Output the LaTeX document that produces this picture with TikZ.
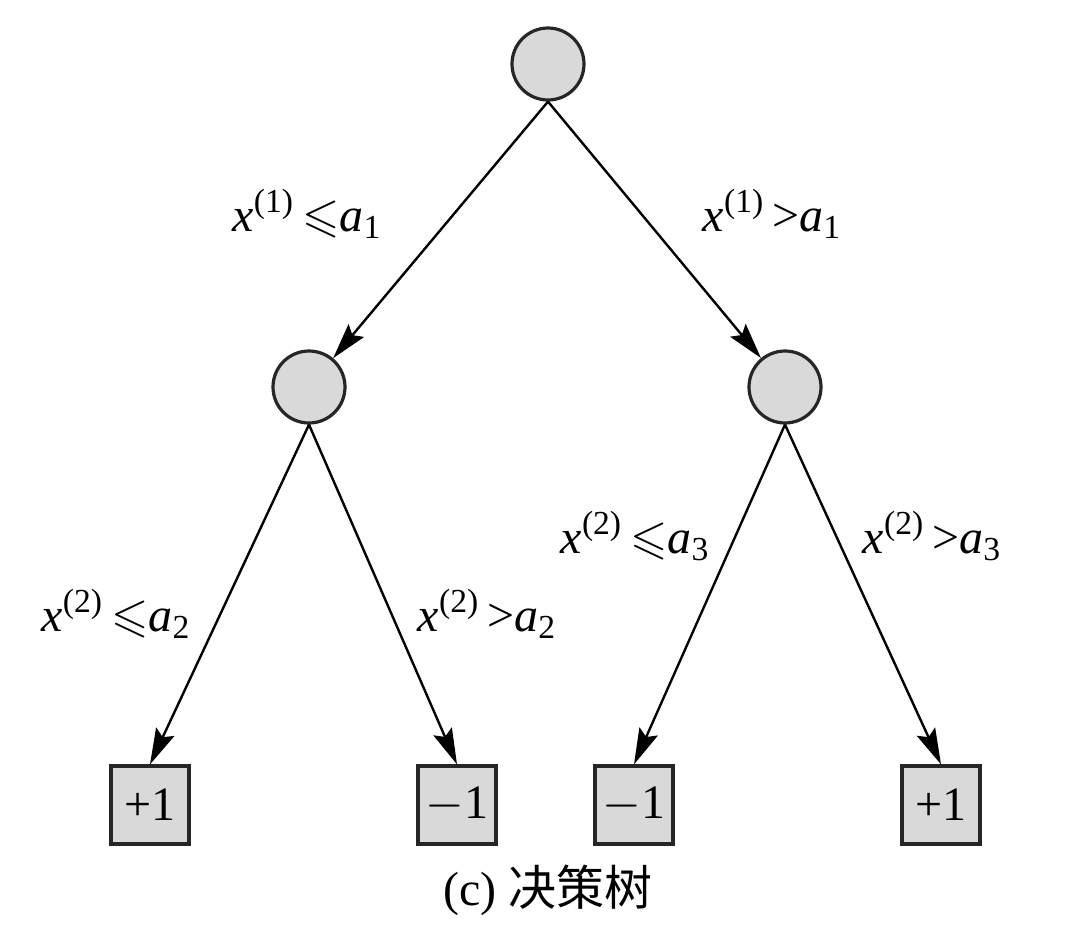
\documentclass[tikz,border=0pt]{standalone}
\usepackage{amssymb}
\usepackage{fontspec}
\setmainfont{Liberation Serif}
\newfontfamily\cjk{Noto Sans CJK SC}
\usetikzlibrary{arrows.meta}
\definecolor{nodegray}{HTML}{D9D9D9}
\newcommand{\xv}[1]{\textit{x}\textsuperscript{(#1)}\,}
\newcommand{\av}[1]{\textit{a}\textsubscript{#1}}
\begin{document}
\begin{tikzpicture}[x=0.5pt,y=-0.5pt,
  every node/.style={font=\fontsize{24}{28}\selectfont},
  decnode/.style={circle,draw=black!85,line width=1.6pt,fill=nodegray,minimum size=36pt,inner sep=0pt},
  leafnode/.style={rectangle,draw=black!85,line width=1.6pt,fill=nodegray,minimum size=39pt,inner sep=0pt},
  edge/.style={line width=1.2pt,-{Stealth[length=18pt,width=10pt,inset=3pt]}},
  lbl/.style={anchor=base,inner sep=0pt}]
\useasboundingbox (0,0) rectangle (1088,938);
\node[decnode] (root) at (548,64) {};
\node[decnode] (L) at (309,387) {};
\node[decnode] (R) at (785,387) {};
\node[leafnode] (LL) at (150,805) {+1};
\node[leafnode] (LR) at (457,805) {$-$1};
\node[leafnode] (RL) at (634,805) {$-$1};
\node[leafnode] (RR) at (941,805) {+1};
\draw[edge] (root.south) -- (L);
\draw[edge] (root.south) -- (R);
\draw[edge] (L.south) -- (LL.north);
\draw[edge] (L.south) -- (LR.north);
\draw[edge] (R.south) -- (RL.north);
\draw[edge] (R.south) -- (RR.north);
\node[lbl] (l1) at (307,231) {\xv{1}$\leqslant$\av{1}};
\node[lbl] (r1) at (772,231) {\xv{1}>\av{1}};
\node[lbl] (l2) at (116,631) {\xv{2}$\leqslant$\av{2}};
\node[lbl] (l3) at (487,631) {\xv{2}>\av{2}};
\node[lbl] (r2) at (635,553) {\xv{2}$\leqslant$\av{3}};
\node[lbl] (r3) at (932,553) {\xv{2}>\av{3}};
\node (cap) at (548,890) {(c) {\cjk 决策树}};
\end{tikzpicture}
\end{document}
